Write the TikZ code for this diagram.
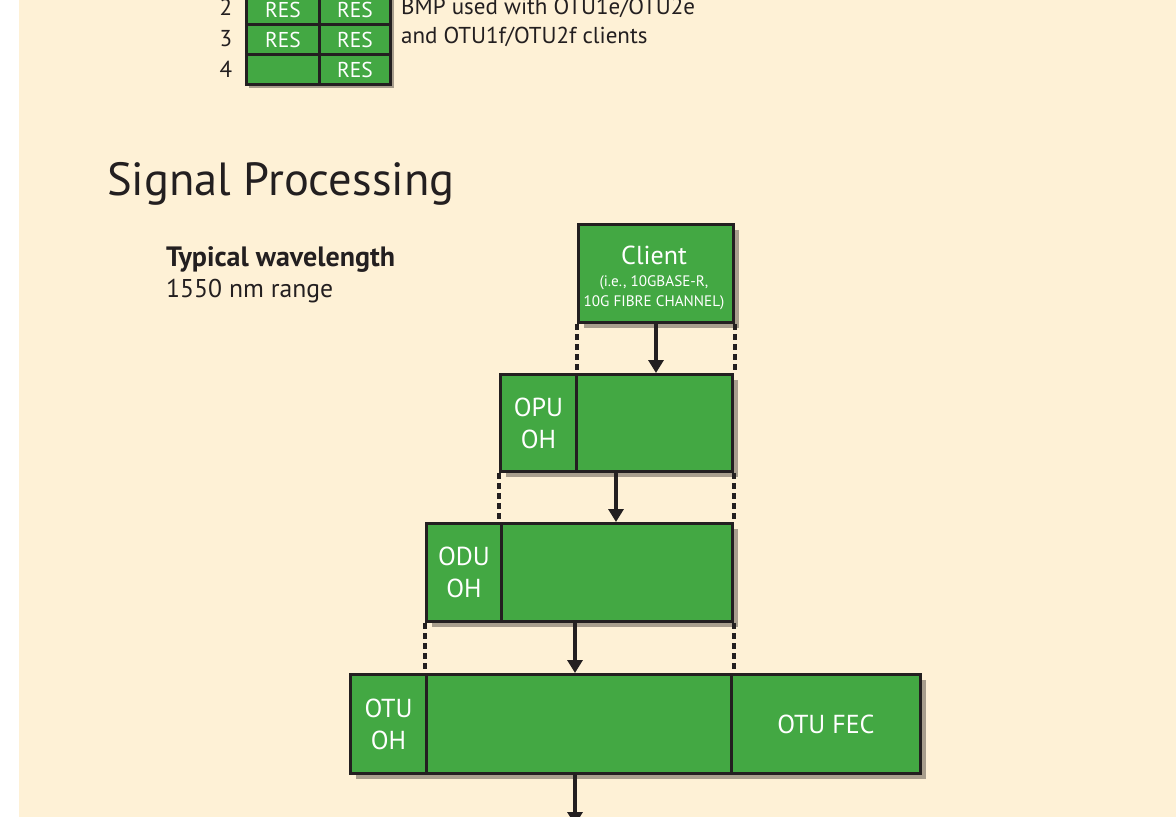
\documentclass[tikz,border=0pt]{standalone}
\usepackage{fontspec}
\setmainfont{PT Sans}
\usetikzlibrary{arrows.meta,shadows,calc}
\definecolor{bgc}{HTML}{FEF1D6}
\definecolor{grn}{HTML}{43A843}
\definecolor{ink}{HTML}{231F20}
\definecolor{shd}{HTML}{A89E8D}
\tikzset{
  gbox/.style={draw=ink, line width=3pt, fill=grn, inner sep=0pt, anchor=north west,
    general shadow={fill=shd, shadow xshift=5pt, shadow yshift=-5pt},
    text=white, align=center, font=\fontsize{26}{32}\selectfont},
  cell/.style={draw=ink, line width=3pt, fill=grn, inner sep=0pt, anchor=north west,
    minimum height=30pt, text=white, font=\fontsize{21.5}{24}\selectfont},
  lbl/.style={inner sep=0pt, text=ink},
  arr/.style={draw=ink, line width=3.2pt, -{Triangle[length=13pt,width=15pt]}},
  dots/.style={draw=ink, line width=4pt, dash pattern=on 6pt off 4pt},
}
\begin{document}
\begin{tikzpicture}[x=1pt,y=-1pt]
\useasboundingbox (0,0) rectangle (1176,817);
\fill[bgc] (19,0) rectangle (1176,817);
% top table
\fill[shd] (249,-10) rectangle (394,88);
\node[cell, minimum width=73pt] (c21) at (245,-7) {RES};
\node[cell, minimum width=71pt] (c22) at (318,-7) {RES};
\node[cell, minimum width=73pt] (c31) at (245,23) {RES};
\node[cell, minimum width=71pt] (c32) at (318,23) {RES};
\node[cell, minimum width=73pt] (c41) at (245,53) {};
\node[cell, minimum width=71pt] (c42) at (318,53) {RES};
\node[lbl, font=\fontsize{23}{26}\selectfont, anchor=base] (n2) at (226,15) {2};
\node[lbl, font=\fontsize{23}{26}\selectfont, anchor=base] (n3) at (226,46) {3};
\node[lbl, font=\fontsize{23}{26}\selectfont, anchor=base] (n4) at (226,77) {4};
\node[lbl, font=\fontsize{23}{26}\selectfont, anchor=base west] (bmp1) at (401,14) {BMP used with OTU1e/OTU2e};
\node[lbl, font=\fontsize{23}{26}\selectfont, anchor=base west] (bmp2) at (401,43) {and OTU1f/OTU2f clients};
% title
\node[lbl, font=\fontsize{46.5}{52}\selectfont, anchor=base west] (title) at (107,195) {Signal Processing};
\node[lbl, font=\fontsize{28}{30}\bfseries\selectfont, anchor=base west] (tw) at (166,266) {Typical wavelength};
\node[lbl, font=\fontsize{25.7}{30}\selectfont, anchor=base west] (nm) at (166,297) {1550 nm range};
% client
\node[gbox, minimum width=155pt, minimum height=98pt] (client) at (577,223) {};
\node[lbl, text=white, font=\fontsize{26}{30}\selectfont, anchor=base] (clt) at (654,264) {Client};
\node[lbl, text=white, font=\fontsize{15.2}{18}\selectfont, anchor=base] (cls1) at (654,286) {(i.e., 10GBASE-R,};
\node[lbl, text=white, font=\fontsize{15.2}{18}\selectfont, anchor=base] (cls2) at (654,306) {10G FIBRE CHANNEL)};
% OPU
\node[gbox, minimum width=76pt, minimum height=97pt] (opuoh) at (499,373) {OPU\\OH};
\node[gbox, minimum width=156pt, minimum height=97pt] (opupay) at (575,373) {};
% ODU
\node[gbox, minimum width=75pt, minimum height=98pt] (oduoh) at (425,522) {ODU\\OH};
\node[gbox, minimum width=231pt, minimum height=98pt] (odupay) at (500,522) {};
% OTU
\node[gbox, minimum width=76pt, minimum height=99pt] (otuoh) at (349,673) {OTU\\OH};
\node[gbox, minimum width=305pt, minimum height=99pt] (otupay) at (425,673) {};
\node[gbox, minimum width=189pt, minimum height=99pt] (otufec) at (730,673) {OTU FEC};
% dotted guides
\draw[dots] (client.south west) -- (client.south west |- opupay.north);
\draw[dots] (client.south east) -- (client.south east |- opupay.north);
\draw[dots] (opuoh.south west) -- (opuoh.south west |- odupay.north);
\draw[dots] (opupay.south east) -- (opupay.south east |- odupay.north);
\draw[dots] (oduoh.south west) -- (oduoh.south west |- otupay.north);
\draw[dots] (odupay.south east) -- (odupay.south east |- otupay.north);
% arrows
\draw[arr] (client.south) -- (client.south |- opupay.north);
\coordinate (a2) at (616,470);
\draw[arr] (a2) -- (a2 |- odupay.north);
\coordinate (a3) at (575,620);
\draw[arr] (a3) -- (a3 |- otupay.north);
\coordinate (a4) at (575,825);
\draw[arr] (a4 |- otupay.south) -- (a4);
\end{tikzpicture}
\end{document}
